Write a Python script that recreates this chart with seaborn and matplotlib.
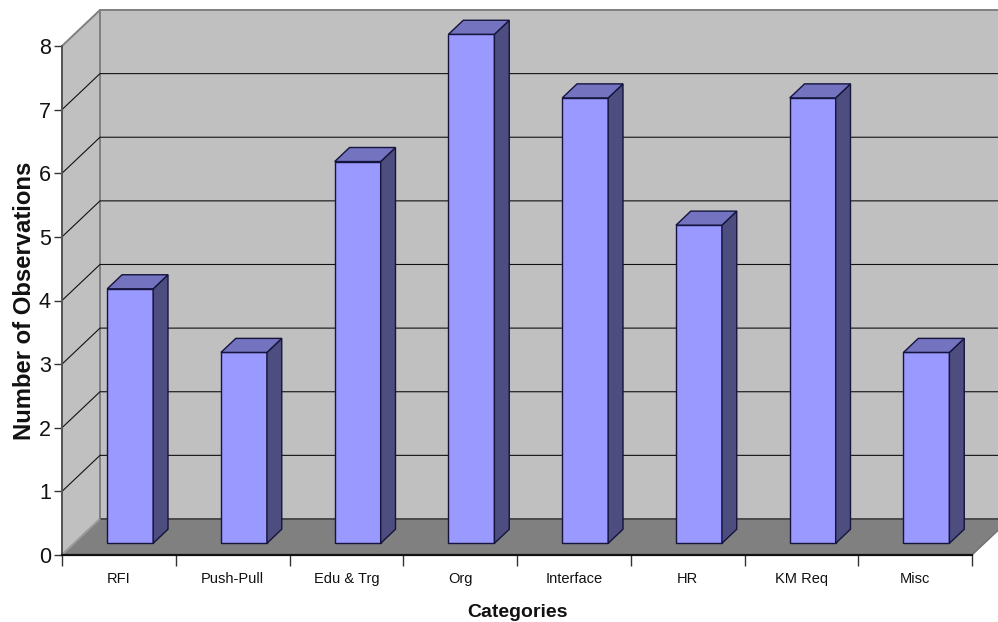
import matplotlib
matplotlib.use("Agg")
import matplotlib.pyplot as plt
from matplotlib.patches import Polygon
from matplotlib.ticker import FixedLocator
import pandas as pd
import seaborn as sns

categories = ["RFI", "Push-Pull", "Edu & Trg", "Org", "Interface", "HR", "KM Req", "Misc"]
observations = [4, 3, 6, 8, 7, 5, 7, 3]
y_ticks = [0, 1, 2, 3, 4, 5, 6, 7, 8]

sns.set_style("white")
plt.rcParams["font.family"] = ["Liberation Sans", "DejaVu Sans"]

FACE = "#9999FF"
SIDE = "#4D4D80"
CAP = "#7373BF"
EDGE = "#14143C"
WALL = "#C0C0C0"
FLOOR = "#808080"
WALL_EDGE = "#808080"

# Oblique projection of the chart box: full depth in data units.
DEPTH_X = 0.334
DEPTH_Y = 0.566
BAR_WIDTH = 0.404
BAR_FRONT = 0.325
BAR_BACK = 0.715
BAR_NUDGE = -0.009


def project(x, y, depth):
    return (x + depth * DEPTH_X, y + depth * DEPTH_Y)


fig = plt.figure(figsize=(9.98, 6.22), dpi=100)
ax = fig.add_axes([62 / 998, 67 / 622, 910 / 998, 509 / 622])

df = pd.DataFrame({"category": categories, "observations": observations})
sns.barplot(data=df, x="category", y="observations", color=FACE, saturation=1,
            width=BAR_WIDTH, edgecolor=EDGE, linewidth=1.0, ax=ax, zorder=5)

x_lo, x_hi = -0.5, len(categories) - 0.5
y_lo, y_hi = y_ticks[0], y_ticks[-1]
ax.set_xlim(x_lo, x_hi)
ax.set_ylim(y_lo, y_hi)

# Walls and floor of the box
side_wall = [project(x_lo, y_lo, 0), project(x_lo, y_hi, 0),
             project(x_lo, y_hi, 1), project(x_lo, y_lo, 1)]
back_wall = [project(x_lo, y_lo, 1), project(x_lo, y_hi, 1),
             project(x_hi, y_hi, 1), project(x_hi, y_lo, 1)]
floor = [project(x_lo, y_lo, 0), project(x_lo, y_lo, 1),
         project(x_hi, y_lo, 1), project(x_hi, y_lo, 0)]
ax.add_patch(Polygon(side_wall, fc=WALL, ec=WALL_EDGE, lw=1.4, clip_on=False, zorder=1))
ax.add_patch(Polygon(back_wall, fc=WALL, ec=WALL_EDGE, lw=1.4, clip_on=False, zorder=1))
ax.add_patch(Polygon(floor, fc=FLOOR, ec="none", clip_on=False, zorder=2))
ax.plot(*zip(project(x_lo, y_lo, 1), project(x_hi, y_lo, 1)),
        color="#4A4A4A", lw=1.4, clip_on=False, zorder=3)
ax.plot(*zip(project(x_lo, y_lo, 0), project(x_lo, y_lo, 1)),
        color="#A0A0A0", lw=1.0, clip_on=False, zorder=3)
ax.plot(*zip(project(x_hi, y_lo, 0), project(x_hi, y_lo, 1)),
        color="#6E6E6E", lw=1.0, clip_on=False, zorder=3)

# Gridlines run along the side wall and across the back wall
for v in y_ticks[1:-1]:
    pts = [project(x_lo, v, 0), project(x_lo, v, 1), project(x_hi, v, 1)]
    ax.plot(*zip(*pts), color="#111111", lw=0.8, clip_on=False, zorder=2)

# Move each front face into the box and add its side and cap
dx_front, dy_front = project(0, 0, BAR_FRONT)
bars = list(ax.containers[0])
for patch, value in zip(bars, observations):
    left = patch.get_x() + BAR_NUDGE
    right = left + patch.get_width()
    patch.set_x(left + dx_front)
    patch.set_y(dy_front)
    patch.set_clip_on(False)
    side = [project(right, 0, BAR_FRONT), project(right, value, BAR_FRONT),
            project(right, value, BAR_BACK), project(right, 0, BAR_BACK)]
    cap = [project(left, value, BAR_FRONT), project(right, value, BAR_FRONT),
           project(right, value, BAR_BACK), project(left, value, BAR_BACK)]
    ax.add_patch(Polygon(side, fc=SIDE, ec=EDGE, lw=1.0, clip_on=False, zorder=6))
    ax.add_patch(Polygon(cap, fc=CAP, ec=EDGE, lw=1.0, clip_on=False, zorder=6))

# Axes, ticks and labels
for name in ("top", "right"):
    ax.spines[name].set_visible(False)
ax.spines["left"].set_color("#555555")
ax.spines["left"].set_linewidth(1.4)
ax.spines["bottom"].set_color("#111111")
ax.spines["bottom"].set_linewidth(1.6)
for spine in ax.spines.values():
    spine.set_zorder(4)

ax.set_yticks(y_ticks)
ax.tick_params(axis="y", left=True, length=6, width=1.0, color="#333333",
               labelsize=15.5, pad=2, labelcolor="#111111")
ax.xaxis.set_minor_locator(FixedLocator([i - 0.5 for i in range(len(categories) + 1)]))
ax.tick_params(axis="x", which="minor", bottom=True, length=8, width=1.0, color="#333333")
ax.tick_params(axis="x", which="major", bottom=False, length=0, labelsize=10.5, pad=12,
               labelcolor="#111111")

ax.set_xlabel("Categories", fontsize=14, fontweight="bold", labelpad=13, color="#111111")
ax.set_ylabel("Number of Observations", fontsize=17.2, fontweight="bold", labelpad=2, color="#111111")

fig.savefig("out.png", dpi=100)
